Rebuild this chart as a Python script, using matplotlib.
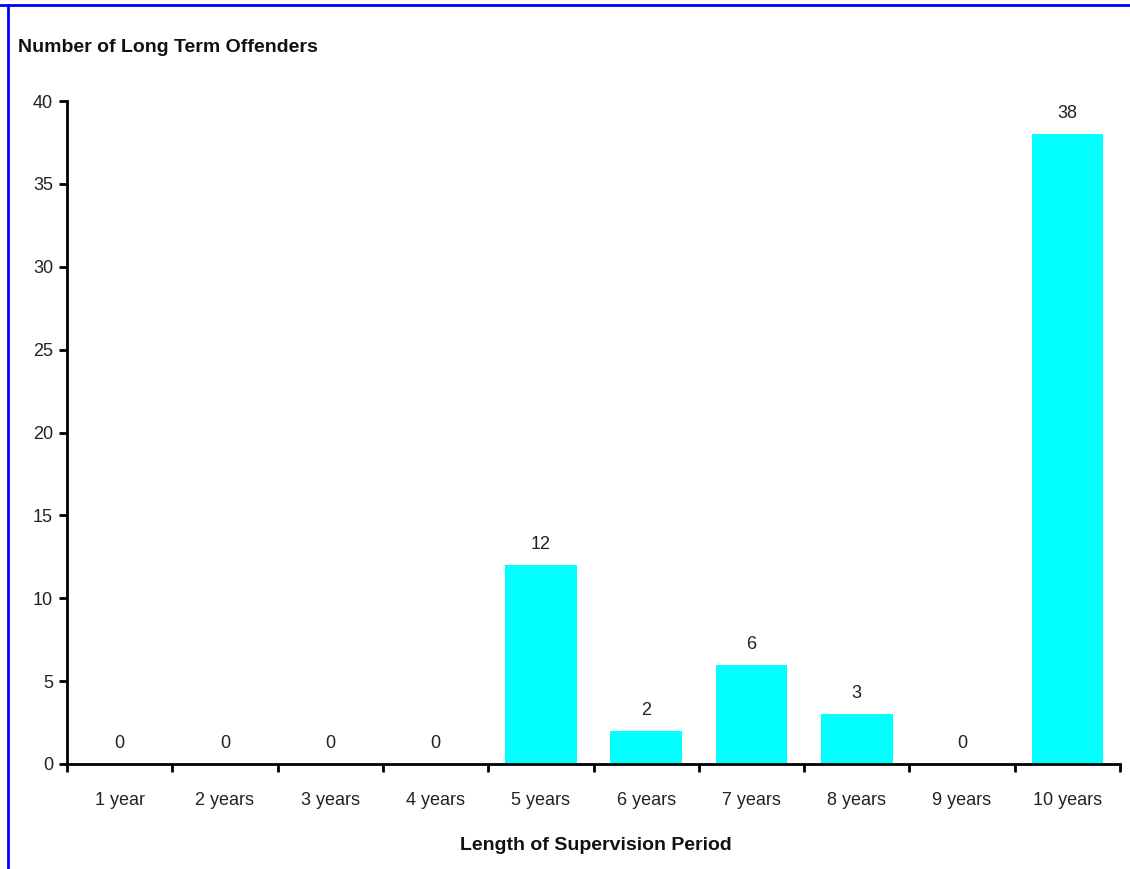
import matplotlib
matplotlib.use("Agg")
import matplotlib.pyplot as plt
from matplotlib.lines import Line2D
from matplotlib import font_manager

categories = ["1 year", "2 years", "3 years", "4 years", "5 years",
              "6 years", "7 years", "8 years", "9 years", "10 years"]
values = [0, 0, 0, 0, 12, 2, 6, 3, 0, 38]
yticks = [0, 5, 10, 15, 20, 25, 30, 35, 40]

names = {f.name for f in font_manager.fontManager.ttflist}
fam = "Liberation Sans Narrow" if "Liberation Sans Narrow" in names else "Liberation Sans"
plt.rcParams['font.family'] = [fam, 'DejaVu Sans']

fig = plt.figure(figsize=(11.3, 8.69), dpi=100)
ax = fig.add_axes([67/1130, 1-764/869, (1120-67)/1130, (764-101)/869])

x = list(range(len(categories)))
ax.bar(x, values, width=0.68, color="#00FFFF", zorder=2)
for xi, v in zip(x, values):
    ax.text(xi, v + 0.72, str(v), ha="center", va="bottom", fontsize=13, color="#222222")

ax.set_xlim(-0.5, len(categories) - 0.5)
ax.set_ylim(0, 40)
ax.set_yticks(yticks)
ax.set_yticklabels([str(t) for t in yticks], fontsize=13, color="#222222")
ax.set_xticks([i - 0.5 for i in range(len(categories) + 1)])
ax.set_xticklabels([])
ax.set_xticks(x, minor=True)
ax.set_xticklabels(categories, minor=True, fontsize=13, color="#222222")
ax.tick_params(axis="x", which="minor", length=0, pad=20)
ax.tick_params(axis="x", which="major", length=6, width=2, direction="out")
ax.tick_params(axis="y", length=6, width=2, direction="out", pad=4)

for s in ["top", "right"]:
    ax.spines[s].set_visible(False)
for s in ["left", "bottom"]:
    ax.spines[s].set_linewidth(2)

fig.text(18/1130, 1-48/869, "Number of Long Term Offenders", fontsize=14,
         fontweight="bold", ha="left", va="center", color="#111111")
fig.text(596/1130, 1-846/869, "Length of Supervision Period", fontsize=14,
         fontweight="bold", ha="center", va="center", color="#111111")

fig.add_artist(Line2D([0, 1], [1-4.5/869, 1-4.5/869], transform=fig.transFigure,
                      color="#0000FF", linewidth=2))
fig.add_artist(Line2D([7.5/1130, 7.5/1130], [0, 1-4.5/869], transform=fig.transFigure,
                      color="#0000FF", linewidth=2))

fig.savefig("out.png", dpi=100)
